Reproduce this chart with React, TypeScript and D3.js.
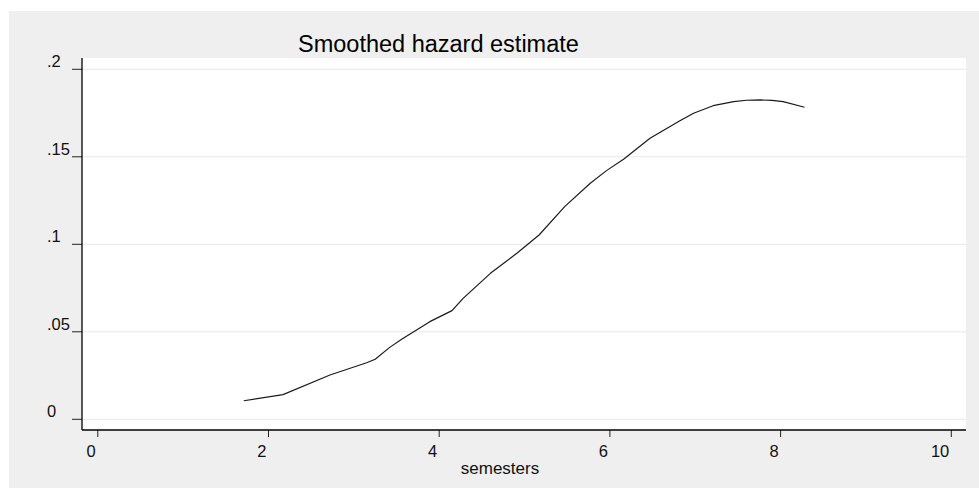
import React, { useEffect, useRef } from 'react';
import * as d3 from 'd3';

// semesters vs smoothed hazard
const semesters = [1.71, 2.17, 2.72, 3.15, 3.25, 3.42, 3.56, 3.89, 4.15, 4.28, 4.6, 4.91, 5.17, 5.47, 5.77, 5.96, 6.16, 6.47, 6.82, 6.98, 7.21, 7.45, 7.6, 7.76, 7.9, 8.03, 8.28];
const hazard = [0.0106, 0.0141, 0.0253, 0.0323, 0.0343, 0.0411, 0.0457, 0.0558, 0.0621, 0.0691, 0.0834, 0.0949, 0.1053, 0.1215, 0.1349, 0.1421, 0.1486, 0.1606, 0.1706, 0.1749, 0.1792, 0.1815, 0.1823, 0.1825, 0.1822, 0.1815, 0.1783];

const xTicks = [0, 2, 4, 6, 8, 10];
const yTicks = [0, 0.05, 0.1, 0.15, 0.2];
const yTickLabels = ['0', '.05', '.1', '.15', '.2'];

const App: React.FC = () => {
  const svgRef = useRef<SVGSVGElement>(null);

  useEffect(() => {
    if (!svgRef.current) return;
    const svg = d3.select(svgRef.current);
    svg.selectAll('*').remove();

    const width = 979;
    const height = 488;
    const font = "'Liberation Sans', Arial, sans-serif";

    // plot region
    const left = 82, right = 966, top = 58, bottom = 430;

    const x = d3.scaleLinear().domain([0, 10]).range([97.8, 951.3]);
    const y = d3.scaleLinear().domain([0, 0.2]).range([419.3, 69.3]);

    svg.attr('width', width).attr('height', height);

    // outer background
    svg.append('rect')
      .attr('x', 9).attr('y', 11)
      .attr('width', width - 9).attr('height', height - 11)
      .attr('fill', '#efefef');

    // plot area
    svg.append('rect')
      .attr('x', left).attr('y', top)
      .attr('width', right - left).attr('height', bottom - top)
      .attr('fill', '#ffffff');

    // grid lines
    svg.append('g')
      .selectAll('line')
      .data(yTicks)
      .enter().append('line')
      .attr('x1', left).attr('x2', right)
      .attr('y1', d => y(d)).attr('y2', d => y(d))
      .attr('stroke', '#e8e8e8')
      .attr('stroke-width', 1);

    // y ticks + labels
    const yt = svg.append('g');
    yt.selectAll('line')
      .data(yTicks)
      .enter().append('line')
      .attr('x1', 72).attr('x2', left)
      .attr('y1', d => y(d)).attr('y2', d => y(d))
      .attr('stroke', '#222')
      .attr('stroke-width', 1);
    yt.selectAll('text')
      .data(yTicks)
      .enter().append('text')
      .attr('x', 47)
      .attr('y', d => y(d) - 2)
      .text((d, i) => yTickLabels[i])
      .style('font-family', font)
      .style('font-size', '16.5px')
      .style('fill', '#111');

    // x ticks + labels
    const xt = svg.append('g');
    xt.selectAll('line')
      .data(xTicks)
      .enter().append('line')
      .attr('x1', d => x(d)).attr('x2', d => x(d))
      .attr('y1', bottom).attr('y2', bottom + 7)
      .attr('stroke', '#222')
      .attr('stroke-width', 1);
    xt.selectAll('text')
      .data(xTicks)
      .enter().append('text')
      .attr('x', d => x(d) - 2)
      .attr('y', 457)
      .attr('text-anchor', 'end')
      .text(d => String(d))
      .style('font-family', font)
      .style('font-size', '16.5px')
      .style('fill', '#111');

    // axis lines
    svg.append('line')
      .attr('x1', left).attr('x2', left)
      .attr('y1', top).attr('y2', bottom)
      .attr('stroke', '#000').attr('stroke-width', 1.3);
    svg.append('line')
      .attr('x1', left).attr('x2', right)
      .attr('y1', bottom).attr('y2', bottom)
      .attr('stroke', '#000').attr('stroke-width', 1.3);

    // hazard curve
    const pts: [number, number][] = semesters.map((s, i) => [s, hazard[i]]);
    const line = d3.line<[number, number]>()
      .x(d => x(d[0]))
      .y(d => y(d[1]));
    svg.append('path')
      .datum(pts)
      .attr('d', line)
      .attr('fill', 'none')
      .attr('stroke', '#1a1a1a')
      .attr('stroke-width', 1.2)
      .attr('stroke-linejoin', 'round');

    // titles
    svg.append('text')
      .attr('x', 298).attr('y', 52)
      .text('Smoothed hazard estimate')
      .style('font-family', font)
      .style('font-size', '23.5px')
      .style('fill', '#000');
    svg.append('text')
      .attr('x', 500).attr('y', 474)
      .attr('text-anchor', 'middle')
      .text('semesters')
      .style('font-family', font)
      .style('font-size', '17px')
      .style('fill', '#111');
  }, []);

  return <svg ref={svgRef} style={{ position: 'absolute', left: 0, top: 0 }} />;
};

export default App;
